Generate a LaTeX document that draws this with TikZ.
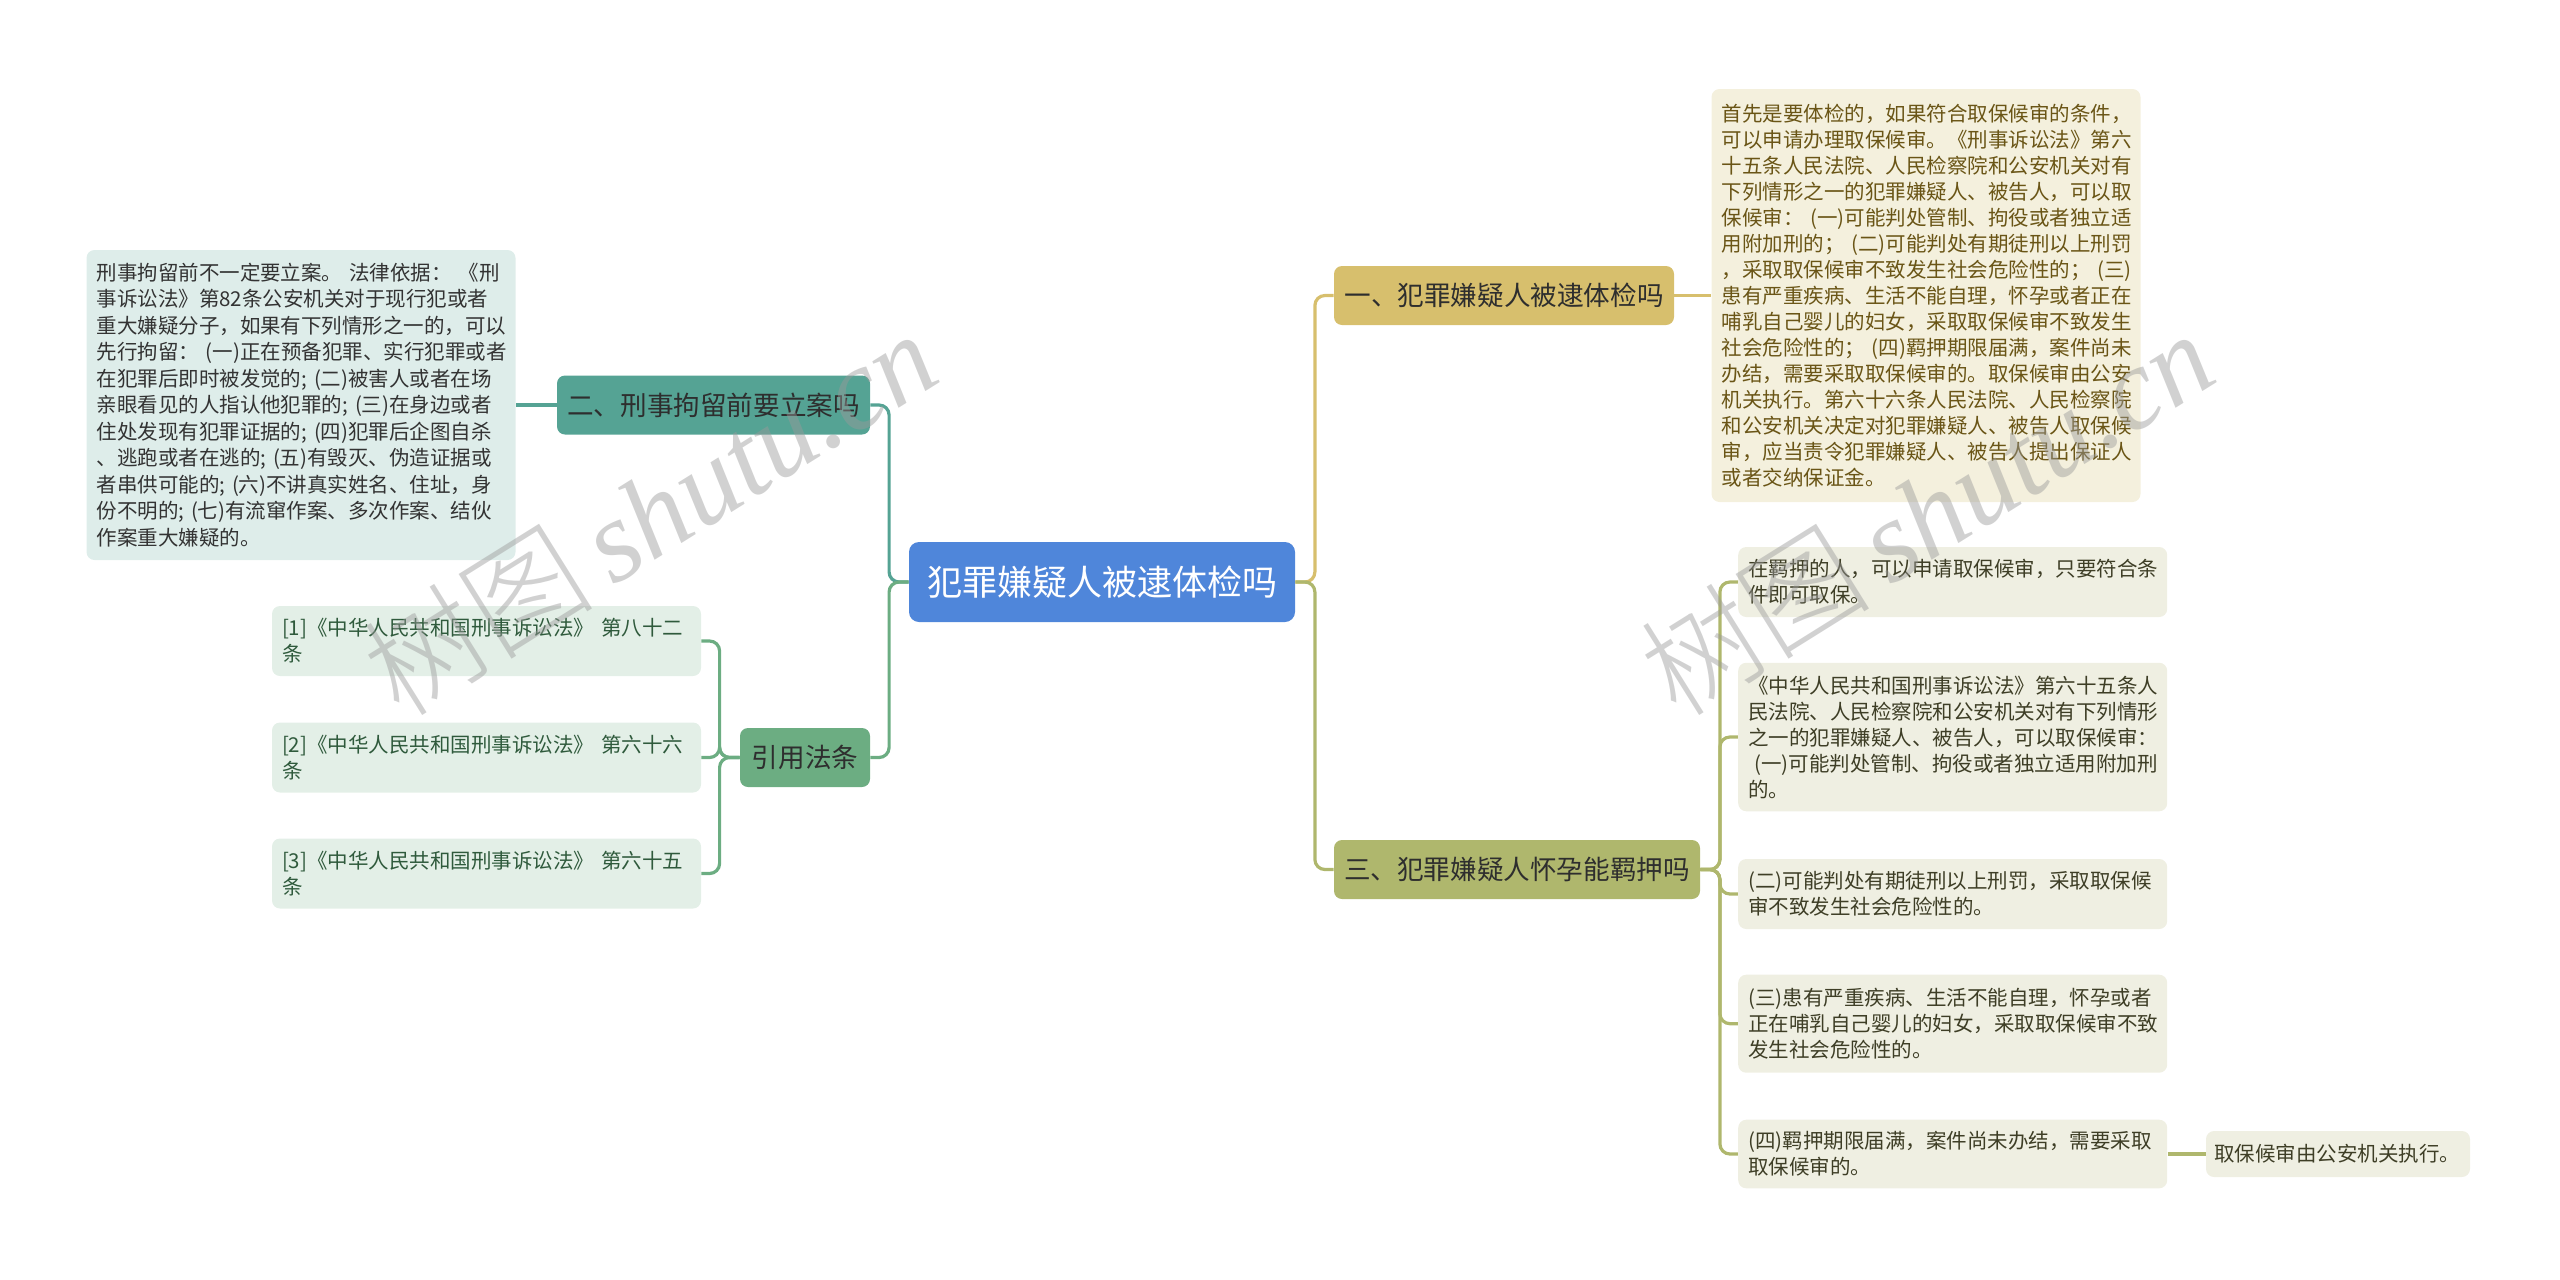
\documentclass[tikz,border=0pt]{standalone}
\usepackage{fontspec}
\setmainfont{Noto Sans CJK SC}
\newfontfamily\wmlatin{Liberation Serif}
\newfontfamily\wmcjk{Noto Sans CJK SC Light}
\definecolor{rootc}{HTML}{4F86DA}
\definecolor{tealc}{HTML}{55A394}
\definecolor{tealbg}{HTML}{DEEDEA}
\definecolor{greenc}{HTML}{6CAD82}
\definecolor{greenbg}{HTML}{E3EFE7}
\definecolor{goldc}{HTML}{D7BF6D}
\definecolor{goldbg}{HTML}{F4F0DD}
\definecolor{olivec}{HTML}{AFB76D}
\definecolor{olivebg}{HTML}{EFEFE2}
\definecolor{lvltext}{HTML}{2E2E2E}
\definecolor{tealtext}{HTML}{333333}
\definecolor{greentext}{HTML}{2F5A3C}
\definecolor{goldtext}{HTML}{6A5516}
\definecolor{olivetext}{HTML}{3E3E26}
\definecolor{wmgray}{HTML}{9A9A9A}
\begin{document}
\begin{tikzpicture}[x=0.5pt,y=-0.5pt,
  lvl/.style={rounded corners=4pt, inner sep=0pt, minimum height=29.5pt,
    text=lvltext, font=\fontsize{13.3}{16}\selectfont},
  detail/.style={rounded corners=4pt, inner xsep=5pt, inner ysep=2pt,
    text width=204.5pt, align=left, font=\fontsize{10.25}{13}\selectfont},
  conn/.style={line width=1.6pt, rounded corners=5pt},
  wm/.style={text=wmgray, opacity=0.45, rotate=32, inner sep=0pt}
]
\useasboundingbox (0,0) rectangle (2560,1280);

% root
\node[rounded corners=5pt, fill=rootc, text=white, minimum width=193pt, minimum height=40pt,
  inner sep=0pt, font=\fontsize{17.5}{20}\selectfont] (root) at (1102,582) {犯罪嫌疑人被逮体检吗};

% left side
\node[lvl, fill=tealc, minimum width=156.5pt] (n2) at (713.5,405) {二、刑事拘留前要立案吗};
\node[detail, fill=tealbg, text=tealtext, minimum height=155pt,
  font=\fontsize{10.25}{13.25}\selectfont] (n2d) at (301,405) {刑事拘留前不一定要立案。~法律依据：~《刑\\
事诉讼法》第82条公安机关对于现行犯或者\\
重大嫌疑分子，如果有下列情形之一的，可以\\
先行拘留：~(一)正在预备犯罪、实行犯罪或者\\
在犯罪后即时被发觉的;~(二)被害人或者在场\\
亲眼看见的人指认他犯罪的;~(三)在身边或者\\
住处发现有犯罪证据的;~(四)犯罪后企图自杀\\
、逃跑或者在逃的;~(五)有毁灭、伪造证据或\\
者串供可能的;~(六)不讲真实姓名、住址，身\\
份不明的;~(七)有流窜作案、多次作案、结伙\\
作案重大嫌疑的。};

\node[lvl, fill=greenc, minimum width=65pt] (cite) at (805,757.5) {引用法条};
\node[detail, fill=greenbg, text=greentext, minimum height=35pt] (c1) at (486.5,641) {[1]《中华人民共和国刑事诉讼法》~第八十二\\条};
\node[detail, fill=greenbg, text=greentext, minimum height=35pt] (c2) at (486.5,757.5) {[2]《中华人民共和国刑事诉讼法》~第六十六\\条};
\node[detail, fill=greenbg, text=greentext, minimum height=35pt] (c3) at (486.5,873.5) {[3]《中华人民共和国刑事诉讼法》~第六十五\\条};

% right side
\node[lvl, fill=goldc, minimum width=170pt] (n1) at (1504,295.5) {一、犯罪嫌疑人被逮体检吗};
\node[detail, fill=goldbg, text=goldtext, minimum height=206.5pt] (n1d) at (1926,295.5) {首先是要体检的，如果符合取保候审的条件，\\
可以申请办理取保候审。《刑事诉讼法》第六\\
十五条人民法院、人民检察院和公安机关对有\\
下列情形之一的犯罪嫌疑人、被告人，可以取\\
保候审：~(一)可能判处管制、拘役或者独立适\\
用附加刑的；~(二)可能判处有期徒刑以上刑罚\\
，采取取保候审不致发生社会危险性的；~(三)\\
患有严重疾病、生活不能自理，怀孕或者正在\\
哺乳自己婴儿的妇女，采取取保候审不致发生\\
社会危险性的；~(四)羁押期限届满，案件尚未\\
办结，需要采取取保候审的。取保候审由公安\\
机关执行。第六十六条人民法院、人民检察院\\
和公安机关决定对犯罪嫌疑人、被告人取保候\\
审，应当责令犯罪嫌疑人、被告人提出保证人\\
或者交纳保证金。};

\node[lvl, fill=olivec, minimum width=183pt] (n3) at (1517,869.5) {三、犯罪嫌疑人怀孕能羁押吗};
\node[detail, fill=olivebg, text=olivetext, minimum height=35pt] (t1) at (1952.7,582) {在羁押的人，可以申请取保候审，只要符合条\\件即可取保。};
\node[detail, fill=olivebg, text=olivetext, minimum height=74.25pt] (t2) at (1952.7,737) {《中华人民共和国刑事诉讼法》第六十五条人\\
民法院、人民检察院和公安机关对有下列情形\\
之一的犯罪嫌疑人、被告人，可以取保候审：\\
\hspace*{0.3em}(一)可能判处管制、拘役或者独立适用附加刑\\
的。};
\node[detail, fill=olivebg, text=olivetext, minimum height=35pt] (t3) at (1952.7,894) {(二)可能判处有期徒刑以上刑罚，采取取保候\\审不致发生社会危险性的。};
\node[detail, fill=olivebg, text=olivetext, minimum height=49pt] (t4) at (1952.7,1023.7) {(三)患有严重疾病、生活不能自理，怀孕或者\\
正在哺乳自己婴儿的妇女，采取取保候审不致\\
发生社会危险性的。};
\node[detail, fill=olivebg, text=olivetext, minimum height=34.3pt] (t5) at (1952.7,1154) {(四)羁押期限届满，案件尚未办结，需要采取\\取保候审的。};
\node[detail, fill=olivebg, text=olivetext, minimum height=23pt, text width=124pt, inner xsep=4pt] (t6) at (2338,1154) {取保候审由公安机关执行。};

% connectors: root
\draw[conn, tealc] (root.west) -- ++(-19.5,0) |- (n2.east);
\draw[conn, greenc] (root.west) -- ++(-19.5,0) |- (cite.east);
\draw[conn, goldc] (root.east) -- ++(19.5,0) |- (n1.west);
\draw[conn, olivec] (root.east) -- ++(19.5,0) |- (n3.west);
% second level
\draw[conn, tealc] (n2.west) -- (n2d.east);
\draw[conn, goldc] (n1.east) -- (n1d.west);
\foreach \c in {c1,c2,c3}
  \draw[conn, greenc] (cite.west) -- ++(-20,0) |- (\c.east);
\foreach \t in {t1,t2,t3,t4,t5}
  \draw[conn, olivec] (n3.east) -- ++(19.5,0) |- (\t.west);
\draw[conn, olivec] (t5.east) -- (t6.west);

% watermarks
\node[wm] (wm1) at (649,512) {\fontsize{58}{66}\selectfont\wmcjk 树图\,\wmlatin\itshape shutu.cn};
\node[wm] (wm2) at (1926,512) {\fontsize{58}{66}\selectfont\wmcjk 树图\,\wmlatin\itshape shutu.cn};
\end{tikzpicture}
\end{document}
